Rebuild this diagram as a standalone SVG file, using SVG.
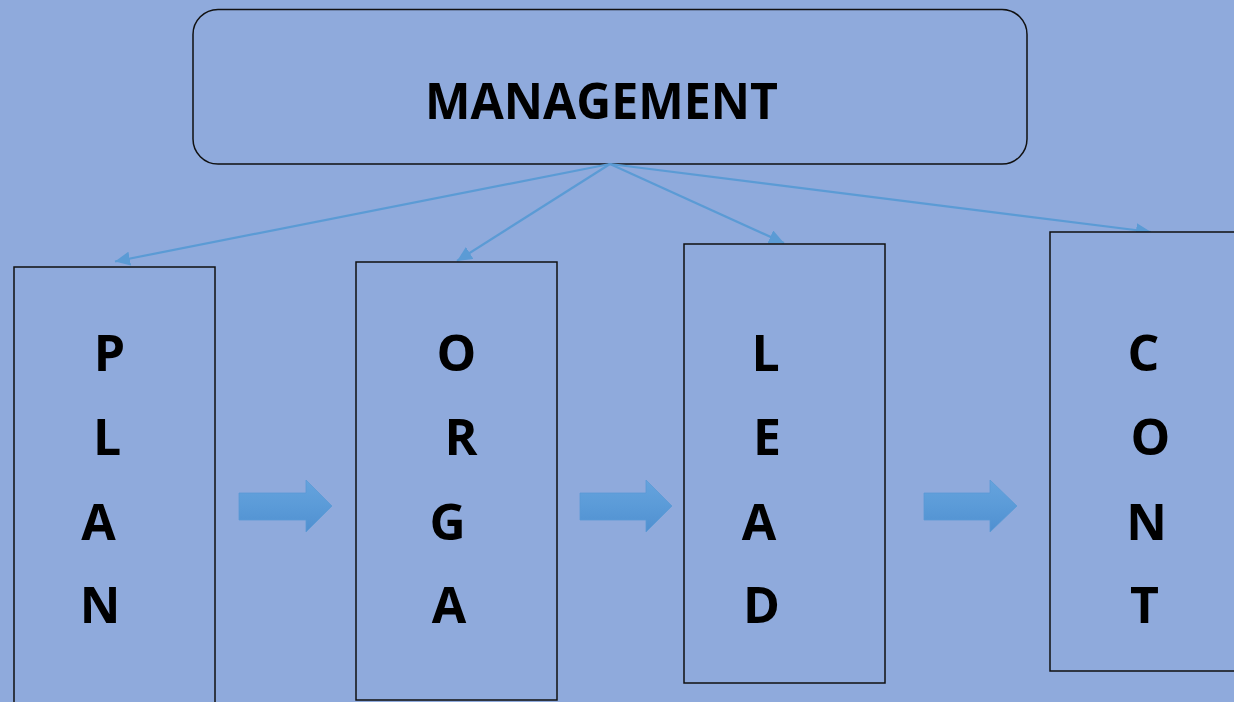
<svg xmlns="http://www.w3.org/2000/svg" width="1234" height="702" viewBox="0 0 1234 702">
  <defs>
    <style>
      .box { fill: #8FAADC; stroke: #111; stroke-width: 1.5; }
      .title { font-family: "Open Sans", "Liberation Sans", sans-serif; font-weight: 700; font-size: 50px; fill: #000; }
      .ltr { font-family: "Open Sans", "Liberation Sans", sans-serif; font-weight: 700; font-size: 50px; fill: #000; text-anchor: middle; }
      .link { stroke: #5B9BD5; stroke-width: 2.2; fill: none; marker-end: url(#tip); }
      .step { fill: url(#stepFill); stroke: #5A9AD6; stroke-width: 0.8; }
    </style>
    <marker id="tip" markerUnits="userSpaceOnUse" markerWidth="18" markerHeight="14" refX="15" refY="7" orient="auto">
      <path d="M0,0 L15,7 L0,14 Z" fill="#5B9BD5"/>
    </marker>
    <linearGradient id="stepFill" x1="0" y1="0" x2="0" y2="1">
      <stop offset="0" stop-color="#65A3DD"/>
      <stop offset="0.5" stop-color="#5B9BD8"/>
      <stop offset="1" stop-color="#4F8FD0"/>
    </linearGradient>
  </defs>

  <rect width="1234" height="702" fill="#8FAADC"/>

  <!-- top node -->
  <g id="management">
    <rect class="box" x="193" y="9.5" width="834" height="154.5" rx="25" ry="25"/>
    <text class="title" x="425" y="119" textLength="353" lengthAdjust="spacingAndGlyphs">MANAGEMENT</text>
  </g>

  <!-- connectors from the top node -->
  <g id="connectors">
    <line class="link" x1="610" y1="164" x2="115" y2="261.5"/>
    <line class="link" x1="610" y1="164" x2="457" y2="261"/>
    <line class="link" x1="610" y1="164" x2="784" y2="243"/>
    <line class="link" x1="610" y1="164" x2="1151" y2="232"/>
    <!-- block arrows between the columns -->
    <path class="step" d="M239,493 H306 V480 L332,506 L306,532 V520 H239 Z"/>
    <path class="step" d="M580,493 H646 V480 L672,506 L646,532 V520 H580 Z"/>
    <path class="step" d="M924,493 H990 V480 L1017,506 L990,532 V520 H924 Z"/>
  </g>

  <g id="plan">
    <rect class="box" x="14" y="267" width="201" height="445"/>
    <text class="ltr" x="109.5" y="371">P</text>
    <text class="ltr" x="107" y="455">L</text>
    <text class="ltr" x="98.5" y="540">A</text>
    <text class="ltr" x="100" y="623">N</text>
  </g>

  <g id="orga">
    <rect class="box" x="356" y="262" width="201" height="438"/>
    <text class="ltr" x="456.5" y="371">O</text>
    <text class="ltr" x="461" y="455">R</text>
    <text class="ltr" x="447.5" y="540">G</text>
    <text class="ltr" x="449" y="623">A</text>
  </g>

  <g id="lead">
    <rect class="box" x="684" y="244" width="201" height="439"/>
    <text class="ltr" x="765.5" y="371">L</text>
    <text class="ltr" x="767" y="455">E</text>
    <text class="ltr" x="759" y="540">A</text>
    <text class="ltr" x="761.5" y="623">D</text>
  </g>

  <g id="cont">
    <rect class="box" x="1050" y="232" width="201" height="439"/>
    <text class="ltr" x="1143.5" y="371">C</text>
    <text class="ltr" x="1150.5" y="455">O</text>
    <text class="ltr" x="1146.5" y="540">N</text>
    <text class="ltr" x="1144.5" y="623">T</text>
  </g>
</svg>
